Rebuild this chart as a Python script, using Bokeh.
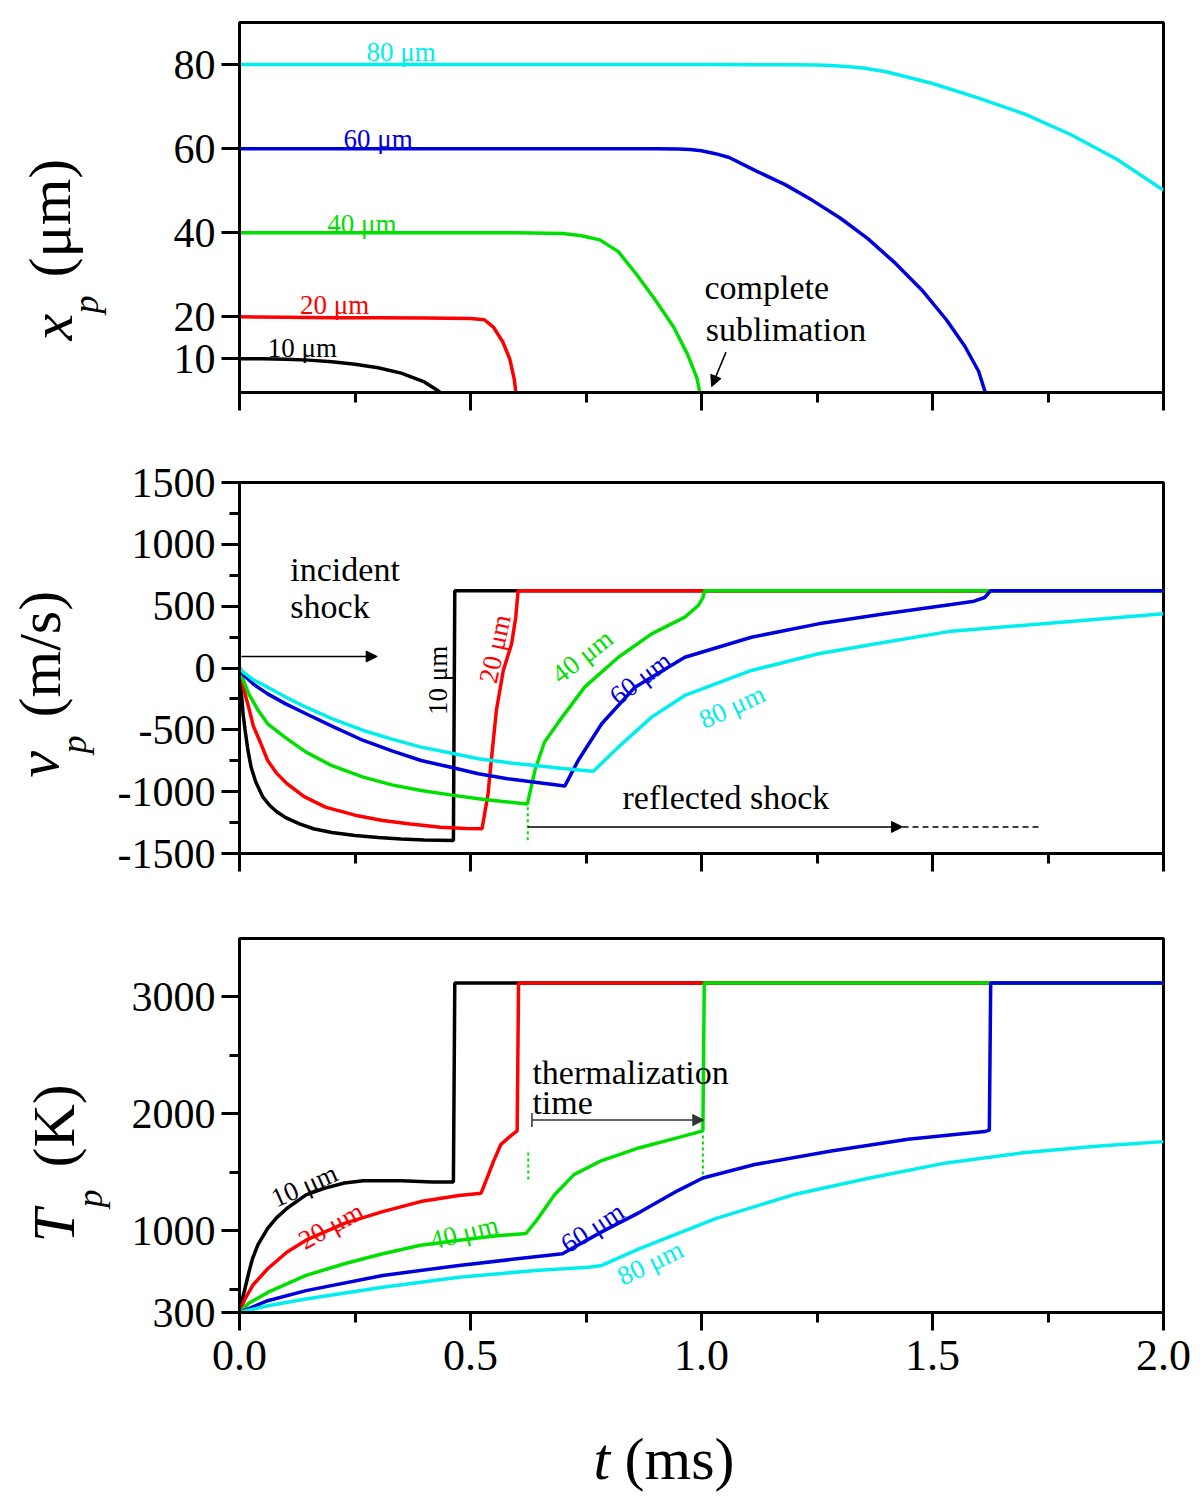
import numpy as np
from bokeh.plotting import figure
from bokeh.layouts import column, row
from bokeh.models import (Range1d, FixedTicker, PrintfTickFormatter, CustomJSTickFormatter,
                          Label, Arrow, NormalHead, TeeHead)
from bokeh.embed import file_html
from bokeh.resources import INLINE

SERIF = "Liberation Serif"
colors = ["#000000", "#ff0000", "#00e000", "#0000dd", "#00eeee"]
sizes = ["10 μm", "20 μm", "40 μm", "60 μm", "80 μm"]

# ---- particle size x_p (μm) vs t (ms)
xp_t = [
    [0, 0.05, 0.1, 0.15, 0.2, 0.25, 0.3, 0.35, 0.4, 0.43, 0.46],
    [0, 0.1, 0.2, 0.3, 0.4, 0.5, 0.53, 0.55, 0.57, 0.585, 0.595, 0.6],
    [0, 0.2, 0.4, 0.6, 0.7, 0.74, 0.78, 0.82, 0.86, 0.9, 0.94, 0.97, 0.99, 1.0],
    [0, 0.3, 0.6, 0.9, 0.95, 0.975, 1.0, 1.03, 1.06, 1.12, 1.18, 1.24, 1.3, 1.36, 1.42,
     1.48, 1.53, 1.57, 1.6, 1.62],
    [0, 0.5, 1.0, 1.2, 1.25, 1.28, 1.32, 1.35, 1.4, 1.5, 1.6, 1.7, 1.8, 1.9, 2.0],
]
xp_v = [
    [10, 10, 9.9, 9.7, 9.3, 8.7, 7.9, 6.6, 4.5, 2.4, 0],
    [20, 19.9, 19.8, 19.8, 19.7, 19.6, 19.3, 17.5, 14, 10, 5, 0],
    [40, 40, 40, 40, 39.8, 39.3, 38.3, 35.5, 30, 24, 17.5, 11, 5.5, 0],
    [60, 60, 60, 60, 59.9, 59.8, 59.5, 58.8, 57.9, 54.6, 51.5, 47.7, 43.5, 38.6, 32.7,
     26, 19.3, 13, 7, 0],
    [80, 80, 80, 79.95, 79.9, 79.8, 79.5, 79.2, 78.3, 75.5, 72, 68.2, 63.3, 57.4, 50.1],
]

# ---- particle velocity v_p (m/s)
vp_t = [
    [0, 0.004, 0.008, 0.012, 0.018, 0.025, 0.035, 0.05, 0.065, 0.08, 0.1, 0.13, 0.16, 0.2,
     0.25, 0.3, 0.35, 0.4, 0.463, 0.466, 2.0],
    [0, 0.006, 0.012, 0.02, 0.03, 0.045, 0.061, 0.08, 0.103, 0.14, 0.186, 0.25, 0.31, 0.37,
     0.435, 0.49, 0.525, 0.538, 0.545, 0.556, 0.571, 0.589, 0.598, 0.603, 2.0],
    [0, 0.01, 0.02, 0.04, 0.061, 0.1, 0.144, 0.2, 0.268, 0.33, 0.393, 0.46, 0.517, 0.57,
     0.623, 0.64, 0.66, 0.69, 0.747, 0.82, 0.892, 0.964, 0.993, 1.003, 1.007, 2.0],
    [0, 0.01, 0.03, 0.061, 0.1, 0.144, 0.2, 0.268, 0.33, 0.393, 0.46, 0.517, 0.58, 0.64,
     0.704, 0.733, 0.784, 0.856, 0.964, 1.108, 1.253, 1.397, 1.541, 1.59, 1.613, 1.626, 2.0],
    [0, 0.01, 0.03, 0.061, 0.1, 0.144, 0.2, 0.268, 0.33, 0.393, 0.46, 0.517, 0.58, 0.64,
     0.7, 0.766, 0.82, 0.892, 0.964, 1.108, 1.253, 1.397, 1.541, 1.613, 1.779, 2.0],
]
vp_v = [
    [0, -200, -380, -500, -660, -800, -920, -1040, -1110, -1160, -1210, -1260, -1300, -1330,
     -1355, -1370, -1382, -1390, -1395, 625, 625],
    [0, -110, -210, -320, -470, -600, -748, -850, -936, -1040, -1125, -1190, -1233, -1262,
     -1287, -1297, -1300, -1017, -748, -344, -20, 196, 411, 625, 625],
    [0, -115, -210, -340, -451, -565, -680, -790, -882, -945, -990, -1028, -1057, -1080,
     -1100, -820, -600, -440, -155, 87, 276, 411, 505, 570, 625, 625],
    [0, -60, -130, -209, -290, -370, -470, -586, -670, -748, -805, -855, -895, -923,
     -955, -748, -451, -155, 87, 249, 357, 438, 513, 540, 570, 625, 625],
    [0, -40, -95, -155, -235, -317, -410, -505, -575, -640, -690, -734, -765, -788,
     -812, -834, -640, -397, -222, -20, 115, 209, 298, 320, 370, 438],
]

# ---- particle temperature T_p (K)
tp_t = [
    [0, 0.004, 0.0116, 0.02, 0.028, 0.04, 0.061, 0.08, 0.103, 0.144, 0.185, 0.227, 0.268,
     0.351, 0.417, 0.463, 0.466, 2.0],
    [0, 0.0116, 0.03, 0.061, 0.103, 0.144, 0.227, 0.31, 0.392, 0.475, 0.523, 0.533, 0.55,
     0.566, 0.587, 0.601, 0.604, 2.0],
    [0, 0.02, 0.061, 0.144, 0.227, 0.31, 0.392, 0.475, 0.558, 0.62, 0.641, 0.682, 0.724,
     0.784, 0.866, 0.949, 1.003, 1.006, 2.0],
    [0, 0.061, 0.144, 0.31, 0.475, 0.699, 0.784, 0.866, 0.949, 1.003, 1.115, 1.281, 1.447,
     1.613, 1.623, 1.626, 2.0],
    [0, 0.061, 0.144, 0.31, 0.475, 0.641, 0.757, 0.784, 0.866, 1.032, 1.198, 1.364, 1.53,
     1.696, 1.861, 2.0],
]
tp_v = [
    [300, 380, 501, 640, 760, 880, 1019, 1110, 1192, 1307, 1364, 1408, 1428, 1428, 1416,
     1416, 3120, 3120],
    [300, 415, 540, 674, 818, 919, 1062, 1163, 1249, 1301, 1321, 1422, 1595, 1739, 1811,
     1854, 3120, 3120],
    [300, 380, 472, 617, 717, 803, 876, 919, 956, 976, 1077, 1307, 1480, 1600, 1710, 1796,
     1854, 3120, 3120],
    [300, 401, 487, 617, 703, 803, 990, 1157, 1343, 1451, 1566, 1681, 1782, 1848, 1860,
     3120, 3120],
    [300, 358, 415, 516, 602, 660, 688, 703, 846, 1105, 1307, 1451, 1580, 1667, 1724, 1762],
]

x_ticks = [0, 0.5, 1.0, 1.5, 2.0]
x_minor = [0.25, 0.75, 1.25, 1.75]

LEFT_W = 114          # strip that holds the y titles
PAGE_H = 1496


def make_panel(y_range, y_ticks, y_minor, top, frame_h, bottom, show_x):
    p = figure(x_range=Range1d(0, 2), y_range=Range1d(*y_range),
               frame_width=924, frame_height=frame_h,
               min_border_left=238 - LEFT_W, min_border_right=30,
               min_border_top=top, min_border_bottom=bottom,
               toolbar_location=None, tools="", output_backend="svg")
    p.grid.visible = False
    p.outline_line_color = "black"
    p.outline_line_width = 3
    for ax in (p.xaxis[0], p.yaxis[0]):
        ax.axis_line_width = 3
        ax.major_tick_line_width = 3
        ax.minor_tick_line_width = 3
        ax.major_tick_in = 0
        ax.major_tick_out = 18
        ax.minor_tick_in = 0
        ax.minor_tick_out = 10
        ax.major_label_text_font = SERIF
        ax.major_label_text_color = "black"
    p.yaxis.major_label_text_font_size = "42px"
    p.xaxis.major_label_text_font_size = "44px"
    p.xaxis.ticker = FixedTicker(ticks=x_ticks, minor_ticks=x_minor)
    p.yaxis.ticker = FixedTicker(ticks=y_ticks, minor_ticks=y_minor)
    p.yaxis.formatter = PrintfTickFormatter(format="%d")
    p.yaxis.major_label_standoff = 6
    p.xaxis.major_label_standoff = 10
    if show_x:
        p.xaxis.formatter = PrintfTickFormatter(format="%.1f")
    else:
        p.xaxis.formatter = CustomJSTickFormatter(code="return ''")
    return p


def blank(w, h, x0, x1, left=0, right=0):
    f = figure(frame_width=w, frame_height=h, x_range=Range1d(x0, x1), y_range=Range1d(0, h),
               x_axis_type=None, y_axis_type=None, min_border=0,
               min_border_left=left, min_border_right=right,
               toolbar_location=None, tools="", output_backend="svg")
    f.grid.visible = False
    f.outline_line_color = None
    return f


def lab(p, text, x, y, color="black", size=27, angle=0.0, style="normal", align="center"):
    p.add_layout(Label(x=x, y=y, text=text, text_color=color, text_font=SERIF,
                       text_font_size=f"{size}px", text_font_style=style,
                       angle=np.radians(angle), text_align=align, text_baseline="middle"))


def arrow(p, x0, y0, x1, y1, color="black", start=None):
    p.add_layout(Arrow(end=NormalHead(size=11, fill_color=color, line_color=color),
                       start=start, x_start=x0, y_start=y0, x_end=x1, y_end=y1,
                       line_color=color, line_width=1.5))


# ---------------- panel 1
p1 = make_panel((2, 90), [10, 20, 40, 60, 80], [], 22, 370, 45, False)
for t, v, c in zip(xp_t, xp_v, colors):
    p1.line(t, v, line_color=c, line_width=3.5)
lab_xp = [(0.136, 12.6), (0.206, 22.9), (0.265, 42.1), (0.30, 62.4), (0.35, 82.9)]
for (x, y), s, c in zip(lab_xp, sizes, colors):
    lab(p1, s, x, y, color=c)
lab(p1, "complete", 1.0065, 26.9, size=34, align="left")
lab(p1, "sublimation", 1.009, 16.9, size=34, align="left")
arrow(p1, 1.053, 11.6, 1.022, 3.4)

# ---------------- panel 2
p2 = make_panel((-1500, 1500), list(range(-1500, 1501, 500)),
                list(range(-1250, 1251, 500)), 45, 371, 42, False)
for t, v, c in zip(vp_t, vp_v, colors):
    p2.line(t, v, line_color=c, line_width=3.5)
lab_vp = [(0.43, -100, 90), (0.553, 155, 78), (0.742, 95, 38), (0.868, -82, 37),
          (1.066, -312, 25)]
for (x, y, a), s, c in zip(lab_vp, sizes, colors):
    lab(p2, s, x, y, color=c, angle=a)
lab(p2, "incident", 0.11, 796, size=34, align="left")
lab(p2, "shock", 0.11, 497, size=34, align="left")
arrow(p2, 0.004, 93, 0.298, 93)
lab(p2, "reflected shock", 0.829, -1047, size=34, align="left")
arrow(p2, 0.624, -1285, 1.435, -1285)
p2.line([1.435, 1.737], [-1285, -1285], line_color="black", line_width=1.5, line_dash="6 4")
p2.segment([0.624], [-1125], [0.624], [-1410], line_color=colors[2], line_width=2,
           line_dash="3 3")

# ---------------- panel 3
p3 = make_panel((300, 3500), [300, 1000, 2000, 3000], [500, 1500, 2500], 43, 374, 80, True)
for t, v, c in zip(tp_t, tp_v, colors):
    p3.line(t, v, line_color=c, line_width=3.5)
lab_tp = [(0.14, 1386, 24), (0.198, 1043, 29), (0.486, 983, 14), (0.764, 1026, 33),
          (0.889, 725, 26)]
for (x, y, a), s, c in zip(lab_tp, sizes, colors):
    lab(p3, s, x, y, color=c, angle=a)
lab(p3, "thermalization", 0.634, 2354, size=34, align="left")
lab(p3, "time", 0.634, 2097, size=34, align="left")
arrow(p3, 0.633, 1946, 1.005, 1946, color="#333333",
      start=TeeHead(size=14, line_color="#333333", line_width=1.5))
p3.segment([0.625, 1.003], [1437, 1480], [0.625, 1.003], [1696, 1826],
           line_color=colors[2], line_width=2, line_dash="3 3")

# ---------------- axis titles (page pixel positions, text centre line)
col_h = 437 + 458 + 497
bottom = blank(924, PAGE_H - col_h, 238, 1162, left=238 - LEFT_W, right=30)
lab(bottom, "t", 592, PAGE_H - 1458, size=60, style="italic", align="left")
lab(bottom, "(ms)", 623, PAGE_H - 1458, size=60, align="left")

left = blank(LEFT_W, PAGE_H, 0, LEFT_W)
y_titles = [
    ("x", "(μm)", (51, 340), (85, 313), (49, 277)),
    ("v", "(m/s)", (37, 777), (73, 753), (39, 717)),
    ("T", "(K)", (53, 1242), (89, 1207), (53, 1167)),
]
for var, unit, (vx, vy), (sx, sy), (ux, uy) in y_titles:
    lab(left, var, vx, PAGE_H - vy, size=60, angle=90, style="italic", align="left")
    lab(left, "p", sx, PAGE_H - sy, size=36, angle=90, style="italic", align="left")
    lab(left, unit, ux, PAGE_H - uy, size=60, angle=90, align="left")

layout = row(left, column(p1, p2, p3, bottom))
open("out.html", "w").write(file_html(layout, INLINE))
